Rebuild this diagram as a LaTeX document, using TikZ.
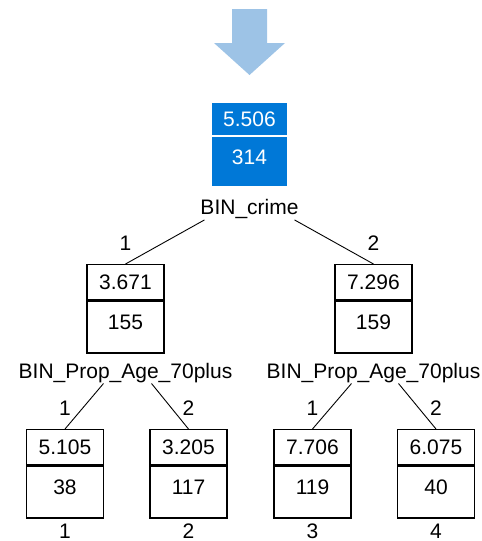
\documentclass[tikz,border=0pt]{standalone}
\usepackage{fontspec}
\setmainfont{Liberation Sans}
\usetikzlibrary{positioning}
\definecolor{rootblue}{RGB}{0,120,215}
\definecolor{arrowblue}{RGB}{157,195,230}

\begin{document}
\begin{tikzpicture}[x=1pt, y=-1pt, font=\fontsize{21}{25}\selectfont,
	part/.style={draw=black, line width=1.3pt, minimum width=77pt, anchor=north, inner sep=0pt},
	meanbox/.style={part, minimum height=35pt, text height=15pt, text depth=0pt},
	countbox/.style={part, minimum height=52pt, text height=15pt, text depth=9pt},
	rootpart/.style={draw=white, line width=1pt, fill=rootblue, text=white, minimum width=76pt},
	splitlabel/.style={inner sep=0pt, text height=15pt, text depth=5pt},
	branchlabel/.style={inner sep=0pt, text height=15pt, text depth=0pt},
	link/.style={draw=black, line width=.9pt}]
	\useasboundingbox (0,0) rectangle (482,541);
	% input arrow
	\fill[arrowblue] (232,9) -- (267,9) -- (267,43) -- (285,43) -- (249.5,75) -- (214,43) -- (232,43) -- cycle;
	% root
	\node[meanbox, rootpart, minimum height=33pt]  (r-m) at (249.5,102) {5.506};
	\node[countbox, rootpart, minimum height=50pt] (r-n) at (r-m.south) {314};
	\node[splitlabel, below=12.5pt of r-n]         (crime) {BIN\_crime};
	% first split
	\node[meanbox]  (a-m) at (125.5,264) {3.671};
	\node[countbox] (a-n) at (a-m.south) {155};
	\node[meanbox]  (b-m) at (373.5,264) {7.296};
	\node[countbox] (b-n) at (b-m.south) {159};
	\node[branchlabel, above=13pt of a-m]  (a-br)  {1};
	\node[branchlabel, above=13pt of b-m]  (b-br)  {2};
	\node[splitlabel, below=9.5pt of a-n]  (a-age) {BIN\_Prop\_Age\_70plus};
	\node[splitlabel, below=9.5pt of b-n]  (b-age) {BIN\_Prop\_Age\_70plus};
	% leaves
	\node[meanbox]  (c-m) at (65,429)    {5.105};
	\node[countbox] (c-n) at (c-m.south) {38};
	\node[meanbox]  (d-m) at (188.5,429) {3.205};
	\node[countbox] (d-n) at (d-m.south) {117};
	\node[meanbox]  (e-m) at (312.5,429) {7.706};
	\node[countbox] (e-n) at (e-m.south) {119};
	\node[meanbox]  (f-m) at (436,429)   {6.075};
	\node[countbox] (f-n) at (f-m.south) {40};
	\node[branchlabel, above=13pt of c-m] (c-br) {1};
	\node[branchlabel, above=13pt of d-m] (d-br) {2};
	\node[branchlabel, above=13pt of e-m] (e-br) {1};
	\node[branchlabel, above=13pt of f-m] (f-br) {2};
	\node[branchlabel, below=5pt of c-n]  (c-leaf) {1};
	\node[branchlabel, below=5pt of d-n]  (d-leaf) {2};
	\node[branchlabel, below=5pt of e-n]  (e-leaf) {3};
	\node[branchlabel, below=5pt of f-n]  (f-leaf) {4};
	% branches
	\draw[link] ([xshift=-45pt]crime.south) -- (a-m.north);
	\draw[link] ([xshift=45pt]crime.south)  -- (b-m.north);
	\draw[link] ([xshift=-22pt]a-age.south) -- (c-m.north);
	\draw[link] ([xshift=26pt]a-age.south)  -- (d-m.north);
	\draw[link] ([xshift=-22pt]b-age.south) -- (e-m.north);
	\draw[link] ([xshift=25pt]b-age.south)  -- (f-m.north);
\end{tikzpicture}
\end{document}
